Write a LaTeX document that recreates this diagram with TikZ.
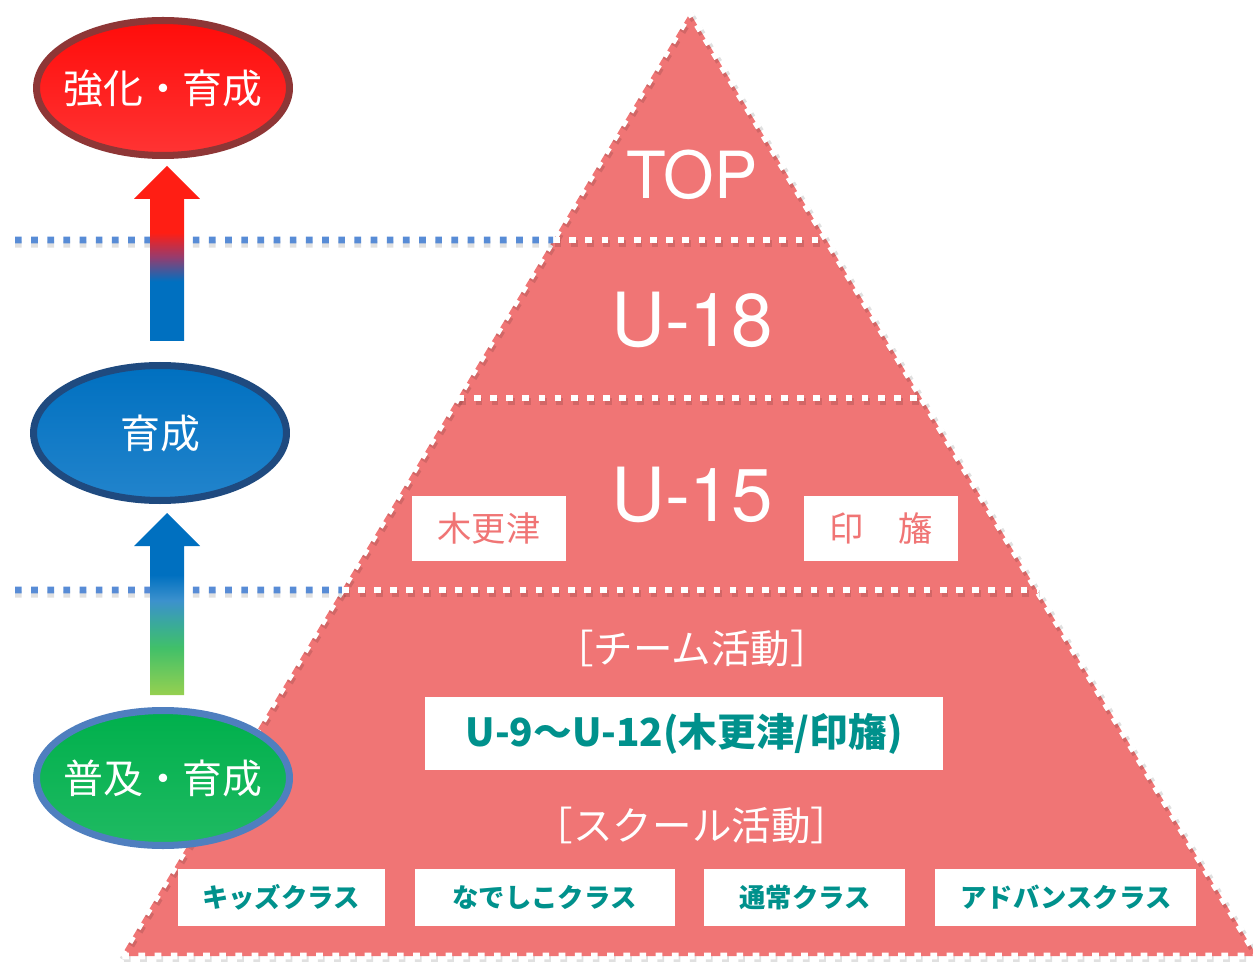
\documentclass[tikz,border=0pt]{standalone}
\usepackage{fontspec}
\setmainfont{Noto Sans CJK JP}
\newfontfamily\lvlfont{TeX Gyre Heros}
\usetikzlibrary{shapes.geometric,calc,positioning}

\definecolor{pyrred}{RGB}{240,117,117}
\definecolor{dotblue}{RGB}{88,140,214}
\definecolor{clteal}{RGB}{0,145,140}
\definecolor{upred}{RGB}{255,30,20}
\definecolor{upmid}{RGB}{150,60,110}
\definecolor{upblue}{RGB}{0,112,192}
\definecolor{lowblue}{RGB}{0,112,192}
\definecolor{lowsky}{RGB}{60,145,205}
\definecolor{lowteal}{RGB}{58,172,150}
\definecolor{lowgreen}{RGB}{65,192,105}
\definecolor{lowyellow}{RGB}{150,208,80}

\pgfdeclareverticalshading{redblue}{100bp}{color(0bp)=(upblue); color(25bp)=(upblue);
  color(42bp)=(upblue); color(49bp)=(upmid); color(56bp)=(upred); color(100bp)=(upred)}
\pgfdeclareverticalshading{bluegreen}{100bp}{color(0bp)=(lowyellow); color(25bp)=(lowyellow);
  color(38bp)=(lowgreen); color(44bp)=(lowteal); color(51bp)=(lowsky); color(58bp)=(lowblue);
  color(100bp)=(lowblue)}

\begin{document}
\begin{tikzpicture}[x=0.02cm,y=-0.02cm,every node/.style={inner sep=0pt},
    wdash/.style={white,line width=3.8pt,dash pattern=on 3.8pt off 5.4pt},
    wshadow/.style={black,opacity=0.12,line width=3.8pt,dash pattern=on 3.8pt off 5.4pt,
      transform canvas={xshift=1pt,yshift=-2pt}},
    bdot/.style={dotblue,line width=3.8pt,dash pattern=on 3.8pt off 5.4pt},
    bshadow/.style={black,opacity=0.12,line width=3.8pt,dash pattern=on 3.8pt off 5.4pt,
      transform canvas={yshift=-2.5pt}},
    lvl/.style={text=white,font=\lvlfont\fontsize{37}{37}\selectfont},
    goal/.style={ellipse,line width=4pt,minimum width=5.06cm,minimum height=2.7cm,
      text=white,font=\fontsize{22.7}{22.7}\selectfont},
    cityb/.style={fill=white,text=pyrred,minimum width=3.08cm,minimum height=1.3cm,
      font=\fontsize{19.5}{19.5}\selectfont},
    act/.style={text=white,font=\fontsize{22.5}{22.5}\selectfont},
    clbox/.style={fill=white,text=clteal,minimum height=1.14cm,
      font=\bfseries\fontsize{15}{15}\selectfont}]
  \useasboundingbox (0,0) rectangle (1253,962);

  % pyramid
  \coordinate (apex) at (690,13);
  \coordinate (bl) at (121,956);
  \coordinate (br) at (1257,956);
  \fill[pyrred] (apex) -- (bl) -- (br) -- cycle;
  \draw[wshadow] (bl) -- (apex) -- (br) -- (bl);
  \draw[wdash] (bl) -- (apex) -- (br) -- (bl);

  % level borders
  \coordinate (l1) at ($(apex)!0.2407!(bl)$);
  \coordinate (r1) at ($(apex)!0.2407!(br)$);
  \coordinate (l2) at ($(apex)!0.4083!(bl)$);
  \coordinate (r2) at ($(apex)!0.4083!(br)$);
  \coordinate (l3) at ($(apex)!0.6119!(bl)$);
  \coordinate (r3) at ($(apex)!0.6119!(br)$);
  \foreach \i in {1,2,3}{
    \draw[wshadow] (l\i) -- (r\i);
    \draw[wdash] (l\i) -- (r\i);
  }
  \coordinate (m1) at (15,240);
  \coordinate (m3) at (15,590);
  \draw[bshadow] (m1) -- (l1);
  \draw[bdot] (m1) -- (l1);
  \draw[bshadow] (m3) -- (l3);
  \draw[bdot] (m3) -- (l3);

  % levels
  \node[lvl] (top) at (692,175) {TOP};
  \node[lvl,font=\lvlfont\fontsize{42.5}{42.5}\selectfont] (u18) at (692,320) {U-18};
  \node[lvl,font=\lvlfont\fontsize{42.5}{42.5}\selectfont] (u15) at (692,495) {U-15};
  \node[cityb] (kisa) at (489,528.5) {木更津};
  \node[cityb] (inba) at (881,528.5) {印　旛};
  \node[act] (team) at (692,648) {［チーム活動］};
  \node[fill=white,text=clteal,minimum width=10.36cm,minimum height=1.46cm,
    font=\bfseries\fontsize{22}{22}\selectfont] (u9) at (684,733.5) {U-9〜U-12(木更津/印旛)};
  \node[act] (school) at (692,825) {［スクール活動］};
  \matrix (classes) [column sep=0.6cm] at (687,897.5) {
    \node[clbox,minimum width=4.14cm] (kids) {キッズクラス}; &
    \node[clbox,minimum width=5.2cm] (nade) {なでしこクラス}; &
    \node[clbox,minimum width=4.02cm] (tsujo) {通常クラス}; &
    \node[clbox,minimum width=5.22cm] (adv) {アドバンスクラス}; \\
  };

  % stages
  \node[goal,draw={rgb,255:red,142;green,54;blue,54},
    top color={rgb,255:red,255;green,12;blue,10},
    bottom color={rgb,255:red,255;green,52;blue,52}] (kyoka) at (163,88) {\makebox[0pt]{強化・育成}};
  \node[goal,draw={rgb,255:red,31;green,74;blue,127},
    top color={rgb,255:red,0;green,112;blue,192},
    bottom color={rgb,255:red,34;green,132;blue,204}] (ikusei) at (160,433) {\makebox[0pt]{育成}};
  \node[goal,draw={rgb,255:red,79;green,127;blue,191},
    top color={rgb,255:red,0;green,176;blue,76},
    bottom color={rgb,255:red,31;green,186;blue,98}] (fukyu) at (163,778) {\makebox[0pt]{普及・育成}};

  % arrows
  \coordinate (a1) at ($(ikusei.north)+(7,-21)$);
  \coordinate (a2) at ($(kyoka.south)+(4,7)$);
  \shade[shading=redblue] ($(a1)+(-17,0)$) -- ($(a2)+(-17,33)$) -- ($(a2)+(-33,33)$) -- (a2)
    -- ($(a2)+(33,33)$) -- ($(a2)+(17,33)$) -- ($(a1)+(17,0)$) -- cycle;
  \coordinate (b1) at ($(fukyu.north)+(4,-12)$);
  \coordinate (b2) at ($(ikusei.south)+(7,9)$);
  \shade[shading=bluegreen] ($(b1)+(-17,0)$) -- ($(b2)+(-17,33)$) -- ($(b2)+(-33,33)$) -- (b2)
    -- ($(b2)+(33,33)$) -- ($(b2)+(17,33)$) -- ($(b1)+(17,0)$) -- cycle;
\end{tikzpicture}
\end{document}
